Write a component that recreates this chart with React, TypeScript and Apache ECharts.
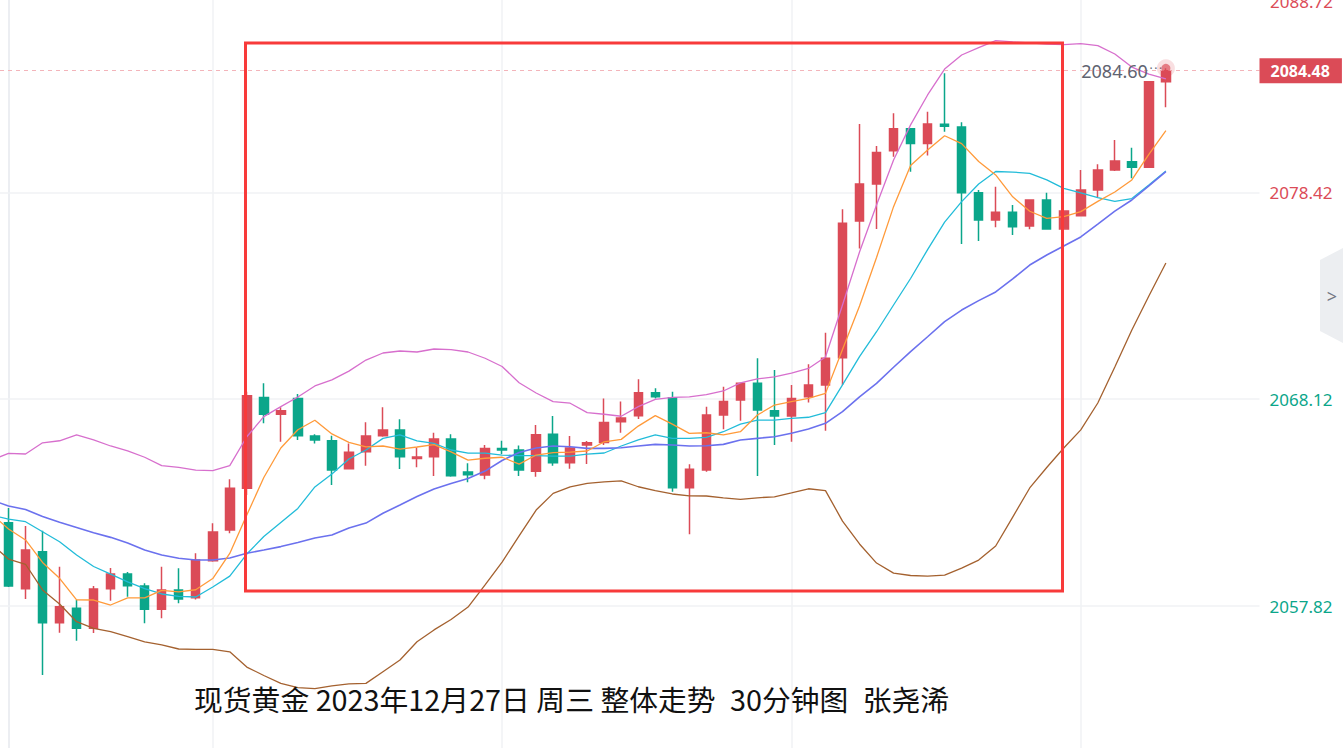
import React, { useEffect, useRef } from "react";
import * as echarts from "echarts";

// ---- data ----
// candles: [open, close, lowest, highest]
const candles: number[][] = [
  [2061.97, 2058.82, 2058.77, 2062.70], [2058.68, 2060.61, 2058.17, 2061.80], [2060.52, 2056.99, 2054.38, 2061.57],
  [2056.99, 2057.79, 2056.49, 2059.78], [2057.71, 2056.71, 2056.09, 2058.12], [2056.71, 2058.67, 2056.48, 2058.82],
  [2058.68, 2059.41, 2058.08, 2059.71], [2059.41, 2058.83, 2058.28, 2059.51], [2058.82, 2057.66, 2056.96, 2058.95],
  [2057.66, 2058.62, 2057.21, 2059.78], [2058.62, 2058.17, 2057.96, 2059.70], [2058.23, 2060.11, 2058.15, 2060.45],
  [2060.08, 2061.51, 2060.03, 2061.94], [2061.61, 2063.68, 2061.44, 2064.13], [2063.68, 2068.29, 2063.35, 2068.49],
  [2068.21, 2067.37, 2066.92, 2068.91], [2067.37, 2067.55, 2066.00, 2067.72], [2068.16, 2066.30, 2066.09, 2068.38],
  [2066.29, 2066.09, 2065.92, 2066.37], [2066.05, 2064.59, 2063.85, 2066.30], [2064.66, 2065.48, 2064.66, 2065.92],
  [2065.50, 2066.29, 2064.81, 2066.97], [2066.30, 2066.59, 2066.25, 2067.72], [2066.59, 2065.26, 2064.64, 2067.12],
  [2065.17, 2065.24, 2064.73, 2065.72], [2065.26, 2066.14, 2064.30, 2066.45], [2066.14, 2064.31, 2064.26, 2066.37],
  [2064.49, 2064.36, 2063.98, 2064.93], [2064.34, 2065.67, 2064.13, 2065.84], [2065.67, 2065.59, 2065.39, 2066.05],
  [2065.59, 2064.59, 2064.30, 2065.82], [2064.53, 2066.35, 2064.26, 2066.83], [2066.37, 2064.96, 2064.81, 2067.28],
  [2064.96, 2065.69, 2064.66, 2066.29], [2065.84, 2065.95, 2064.89, 2066.04], [2065.96, 2066.96, 2065.84, 2068.16],
  [2067.00, 2067.18, 2066.45, 2068.00], [2067.30, 2068.44, 2067.13, 2069.11], [2068.44, 2068.24, 2068.16, 2068.66],
  [2068.19, 2063.71, 2063.51, 2068.49], [2063.71, 2064.63, 2061.39, 2064.88], [2064.59, 2067.33, 2064.51, 2067.75],
  [2067.33, 2068.00, 2066.62, 2068.74], [2068.08, 2068.91, 2067.05, 2068.91], [2068.91, 2067.58, 2064.30, 2070.16],
  [2067.55, 2067.28, 2065.84, 2069.57], [2067.28, 2068.16, 2066.00, 2068.83], [2068.24, 2068.83, 2067.95, 2069.86],
  [2068.83, 2070.16, 2066.55, 2071.43], [2070.19, 2076.88, 2068.83, 2077.58], [2076.99, 2078.84, 2075.63, 2081.82],
  [2078.84, 2080.40, 2076.60, 2080.73], [2080.49, 2081.59, 2080.20, 2082.36], [2081.59, 2080.86, 2079.45, 2081.61],
  [2080.86, 2081.82, 2080.25, 2082.44], [2081.81, 2081.71, 2081.44, 2084.35], [2081.68, 2078.40, 2075.85, 2081.91],
  [2078.40, 2077.04, 2076.00, 2078.54], [2077.04, 2077.43, 2076.68, 2078.70], [2077.43, 2076.71, 2076.30, 2077.79],
  [2076.74, 2078.04, 2076.58, 2078.07], [2078.04, 2076.60, 2076.60, 2078.40], [2076.60, 2077.49, 2076.60, 2077.49],
  [2077.26, 2078.54, 2077.26, 2079.53], [2078.54, 2079.53, 2078.17, 2079.82], [2079.53, 2079.98, 2079.48, 2081.03],
  [2079.95, 2079.67, 2079.12, 2080.64], [2079.67, 2083.93, 2079.67, 2083.93], [2083.93, 2084.48, 2082.66, 2084.60],
];

// indicator lines; the first value belongs to the bar just left of the view
const ma5 = [
  2062.40, 2061.66, 2061.11, 2059.99, 2059.20, 2058.13, 2058.12, 2057.87, 2058.23, 2058.23,
  2058.60, 2058.53, 2058.63, 2059.19, 2060.44, 2062.35, 2064.22, 2065.69, 2066.60, 2067.07,
  2066.39, 2065.97, 2065.75, 2065.79, 2065.63, 2065.74, 2065.86, 2065.50, 2065.09, 2065.18,
  2065.23, 2064.89, 2065.34, 2065.46, 2065.48, 2065.54, 2066.00, 2066.12, 2066.78, 2067.30,
  2066.88, 2066.42, 2066.45, 2066.34, 2066.50, 2067.33, 2067.83, 2068.00, 2068.16, 2068.41,
  2070.60, 2072.76, 2075.18, 2077.71, 2079.76, 2080.53, 2081.24, 2080.85, 2079.96, 2079.29,
  2078.20, 2077.48, 2077.13, 2077.21, 2077.46, 2077.97, 2078.44, 2079.04, 2080.31, 2081.49,
];
const ma10 = [
  2062.35, 2062.15, 2062.02, 2061.52, 2061.02, 2060.36, 2059.79, 2059.41, 2059.02, 2058.69,
  2058.42, 2058.30, 2058.27, 2058.77, 2059.31, 2060.41, 2061.28, 2061.98, 2062.68, 2063.75,
  2064.39, 2065.14, 2065.59, 2066.17, 2066.34, 2066.05, 2065.92, 2065.59, 2065.43, 2065.43,
  2065.34, 2065.31, 2065.31, 2065.29, 2065.29, 2065.38, 2065.44, 2065.79, 2066.09, 2066.34,
  2066.17, 2066.17, 2066.22, 2066.50, 2066.88, 2067.08, 2067.08, 2067.17, 2067.22, 2067.45,
  2068.83, 2070.24, 2071.48, 2072.81, 2074.13, 2075.57, 2076.94, 2077.96, 2078.84, 2079.46,
  2079.43, 2079.37, 2079.04, 2078.62, 2078.39, 2078.16, 2077.97, 2078.11, 2078.79, 2079.48,
];
const bollMid = [
  2063.10, 2062.80, 2062.63, 2062.28, 2061.99, 2061.73, 2061.47, 2061.24, 2060.96, 2060.61,
  2060.36, 2060.20, 2060.11, 2060.11, 2060.21, 2060.45, 2060.61, 2060.78, 2060.98, 2061.21,
  2061.36, 2061.71, 2061.95, 2062.44, 2062.85, 2063.27, 2063.65, 2063.92, 2064.17, 2064.54,
  2065.07, 2065.47, 2065.69, 2065.79, 2065.75, 2065.67, 2065.67, 2065.70, 2065.79, 2065.87,
  2065.84, 2065.79, 2065.80, 2065.87, 2066.09, 2066.17, 2066.25, 2066.42, 2066.64, 2066.92,
  2067.50, 2068.24, 2068.91, 2069.71, 2070.49, 2071.23, 2071.98, 2072.56, 2073.03, 2073.46,
  2074.11, 2074.80, 2075.30, 2075.75, 2076.20, 2076.84, 2077.49, 2078.04, 2078.74, 2079.45,
];
const bollUpper = [
  2065.09, 2065.42, 2065.39, 2065.95, 2066.05, 2066.34, 2066.09, 2065.79, 2065.55, 2065.23,
  2064.81, 2064.73, 2064.59, 2064.56, 2064.81, 2066.25, 2067.25, 2067.75, 2068.23, 2068.78,
  2069.08, 2069.52, 2070.07, 2070.42, 2070.52, 2070.47, 2070.62, 2070.59, 2070.47, 2070.16,
  2069.75, 2068.94, 2068.43, 2068.00, 2067.92, 2067.45, 2067.37, 2067.27, 2067.75, 2068.11,
  2068.21, 2068.24, 2068.35, 2068.53, 2068.93, 2069.13, 2069.23, 2069.42, 2069.65, 2070.22,
  2072.81, 2075.45, 2077.79, 2080.03, 2081.78, 2083.27, 2084.56, 2085.26, 2085.63, 2085.98,
  2085.91, 2085.86, 2085.81, 2085.78, 2085.83, 2085.73, 2085.31, 2084.66, 2084.31, 2084.07,
];
const bollLower = [
  2060.91, 2060.16, 2059.90, 2058.62, 2057.92, 2057.04, 2056.71, 2056.54, 2056.30, 2056.04,
  2055.89, 2055.68, 2055.66, 2055.66, 2055.54, 2054.78, 2054.36, 2053.97, 2053.76, 2053.71,
  2053.84, 2053.94, 2053.97, 2054.55, 2055.13, 2056.04, 2056.63, 2057.15, 2057.77, 2058.87,
  2060.01, 2061.31, 2062.60, 2063.43, 2063.75, 2063.93, 2064.00, 2064.05, 2063.76, 2063.57,
  2063.40, 2063.31, 2063.30, 2063.21, 2063.13, 2063.21, 2063.26, 2063.45, 2063.66, 2063.57,
  2062.05, 2060.91, 2059.96, 2059.46, 2059.34, 2059.31, 2059.36, 2059.71, 2060.11, 2060.81,
  2062.25, 2063.70, 2064.72, 2065.69, 2066.59, 2067.93, 2069.72, 2071.57, 2073.26, 2074.90,
];

const yTicks = [2057.82, 2068.12, 2078.42];
const yTopTick = 2088.72;
const colorSplit = 2075; // labels above are red, below green
const gridBarIndexes = [12, 29, 46, 63]; // bars that carry a vertical grid line
const EMPTY_RIGHT_SLOTS = 5;
const TITLE = "现货黄金 2023年12月27日 周三 整体走势  30分钟图  张尧浠";

const RED = "#db4b57";
const GREEN = "#0ba68a";
const Y_MIN = 2050.75;
const Y_MAX = 2088.0;

const totalSlots = candles.length + EMPTY_RIGHT_SLOTS;
const categories = Array.from({ length: totalSlots }, (_, i) => `K${i}`);
const lastIdx = candles.length - 1;
const lastClose = candles[lastIdx][1];
const lastHigh = candles[lastIdx][3];

// line values sit on a value x axis that matches the category bands (x = bar index)
const toXY = (arr: number[]) => arr.map((v, i) => [i - 1, v]);

const lineSeries = (name: string, data: number[], color: string, width = 1.3) => ({
  name,
  type: "line",
  xAxisIndex: 1,
  data: toXY(data),
  symbol: "none",
  smooth: false,
  silent: true,
  clip: true,
  lineStyle: { color, width },
  z: 3,
});

export default function App() {
  const ref = useRef<HTMLDivElement>(null);
  useEffect(() => {
    if (!ref.current) return;
    const chart = echarts.init(ref.current, undefined, { renderer: "svg" });
    const font = "'Noto Sans', 'DejaVu Sans', sans-serif";
    const option: any = {
      animation: false,
      backgroundColor: "#ffffff",
      grid: { left: 0, right: 83.5, top: 0, bottom: 0 },
      xAxis: [
        {
          type: "category",
          data: categories,
          boundaryGap: true,
          axisLine: { show: false },
          axisTick: { show: false },
          axisLabel: { show: false },
          splitLine: { show: false },
        },
        {
          type: "value",
          min: -0.5,
          max: totalSlots - 0.5,
          show: false,
          splitLine: { show: false },
        },
      ],
      yAxis: {
        type: "value",
        position: "right",
        min: Y_MIN,
        max: Y_MAX,
        axisLine: { show: true, lineStyle: { color: "#eceef2", width: 2 } },
        axisTick: { show: false },
        splitLine: { show: false },
        axisLabel: {
          customValues: yTicks,
          margin: 10,
          fontSize: 17,
          fontFamily: font,
          formatter: (v: number) => v.toFixed(2),
          color: (v: any) => (Number(v) > colorSplit ? RED : GREEN),
        },
      },
      series: [
        {
          name: "grid",
          type: "line",
          xAxisIndex: 1,
          data: [],
          silent: true,
          markLine: {
            silent: true,
            symbol: ["none", "none"],
            z: 1,
            label: { show: false },
            lineStyle: { color: "#f1f2f5", width: 1.5, type: "solid" },
            data: [
              ...yTicks.map((v) => ({ yAxis: v })),
              ...gridBarIndexes.map((i) => ({ xAxis: i })),
            ],
          },
        },
        {
          name: "K",
          type: "candlestick",
          data: candles,
          barWidth: 9,
          z: 2,
          itemStyle: {
            color: RED,
            color0: GREEN,
            borderColor: RED,
            borderColor0: GREEN,
            borderWidth: 1.5,
          },
          markLine: {
            silent: true,
            symbol: ["none", "none"],
            lineStyle: { color: "#f3b4ba", width: 1.2, type: [4, 4] },
            label: {
              show: true,
              position: "end",
              distance: 0,
              formatter: () => lastClose.toFixed(2),
              backgroundColor: RED,
              color: "#ffffff",
              fontSize: 16,
              fontWeight: "bold",
              fontFamily: font,
              lineHeight: 17,
              padding: [4, 12, 4, 11],
            },
            data: [{ yAxis: lastClose }],
          },
          markPoint: {
            silent: true,
            symbol: "circle",
            symbolSize: 0.1,
            itemStyle: { color: "transparent" },
            label: {
              show: true,
              position: "left",
              distance: 3,
              offset: [0, 3],
              formatter: (p: any) => `{v|${Number(p.value).toFixed(2)}}{d|···}`,
              rich: {
                v: { fontSize: 18, color: "#5f6371", fontFamily: font },
                d: { fontSize: 14, color: "#6f727c", padding: [0, 0, 8, 1] },
              },
            },
            data: [{ type: "max", valueDim: "highest" }],
          },
        },
        lineSeries("BOLL-UP", bollUpper, "#d76fcd"),
        lineSeries("BOLL-DN", bollLower, "#a4612f"),
        lineSeries("MA10", ma10, "#22bcd9"),
        lineSeries("MA20", bollMid, "#6b71ee", 1.6),
        lineSeries("MA5", ma5, "#ff9a3a"),
        {
          name: "last",
          type: "scatter",
          silent: true,
          z: 5,
          data: [[lastIdx, lastHigh]],
          symbolSize: 18,
          itemStyle: { color: "rgba(219,75,87,0.22)" },
        },
        {
          name: "last-core",
          type: "scatter",
          silent: true,
          z: 6,
          data: [[lastIdx, lastHigh]],
          symbolSize: 9,
          itemStyle: { color: "rgba(219,75,87,0.85)" },
        },
      ],
      graphic: [
        {
          type: "rect",
          z: 100,
          silent: true,
          shape: { x: 245.5, y: 43, width: 817, height: 548 },
          style: { fill: "none", stroke: "#f83a3a", lineWidth: 3 },
        },
        {
          type: "text",
          z: 100,
          x: 194,
          y: 698,
          style: {
            // double gaps rendered as an en space so the SVG keeps their width
            text: TITLE.replace(/ {2}/g, "\u2002").replace(/ /g, "\u00a0"),
            fontSize: 28.8,
            fontFamily: "'Noto Sans CJK SC', sans-serif",
            fill: "#111111",
            verticalAlign: "middle",
          },
        },
        {
          type: "text",
          z: 100,
          x: 1270,
          y: 1,
          style: {
            text: yTopTick.toFixed(2),
            fontSize: 17,
            fontFamily: font,
            fill: yTopTick > colorSplit ? RED : GREEN,
            verticalAlign: "middle",
          },
        },
        {
          type: "polygon",
          z: 100,
          shape: { points: [[1320, 260], [1343, 248], [1343, 343], [1320, 331]] },
          style: { fill: "#eceef1" },
        },
        {
          type: "text",
          z: 101,
          x: 1332,
          y: 296,
          style: {
            text: ">",
            fontSize: 18,
            fontFamily: font,
            fill: "#727683",
            align: "center",
            verticalAlign: "middle",
          },
        },
      ],
    };
    chart.setOption(option);
    return () => chart.dispose();
  }, []);
  return (
    <div
      ref={ref}
      style={{ position: "fixed", left: 0, top: 0, width: 1343, height: 748, background: "#fff" }}
    />
  );
}
